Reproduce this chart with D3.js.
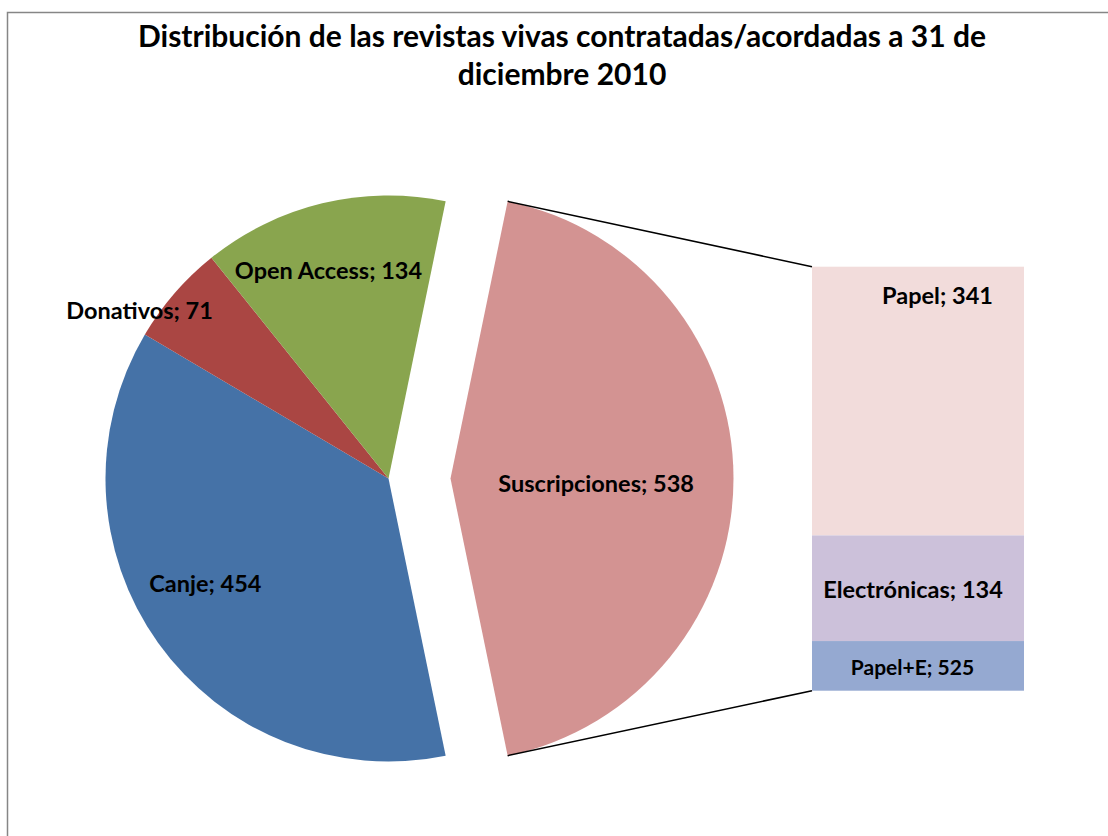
<!DOCTYPE html>
<html><head><meta charset="utf-8">
<script src="https://cdn.jsdelivr.net/npm/d3@7"></script>
<style>body{margin:0;background:#fff;overflow:hidden} svg{display:block}</style>
</head><body>
<script>
// ---- data ----
const titleLines = ["Distribución de las revistas vivas contratadas/acordadas a 31 de", "diciembre 2010"];
const pieCategories = ["Suscripciones", "Canje", "Donativos", "Open Access"];
const pieSliceSizes = [538, 454, 71, 173];   // slice sizes as drawn in the picture
const pieLabelValues = [538, 454, 71, 134];  // values printed in the data labels
const pieColors = ["#D39392", "#4572A7", "#AA4643", "#89A54E"];
const barCategories = ["Papel", "Electrónicas", "Papel+E"];
const barSegmentSizes = [341, 134, 63];      // segment heights as drawn
const barLabelValues = [341, 134, 525];      // values printed in the data labels
const barColors = ["#F2DCDB", "#CCC1DA", "#95A9D1"];

// ---- layout ----
const W = 1108, H = 836;
const FONT = "Lato, 'Open Sans', sans-serif";
const svg = d3.select("body").append("svg").attr("width", W).attr("height", H);

svg.append("rect").attr("x", 7.5).attr("y", 12.5).attr("width", 1200).attr("height", 900)
  .attr("fill", "none").attr("stroke", "#868686").attr("stroke-width", 1.5);

// title
svg.append("g").selectAll("text").data(titleLines).join("text")
  .attr("x", 562).attr("y", (d, i) => 47 + i * 37.5)
  .attr("text-anchor", "middle").attr("font-family", FONT).attr("font-weight", 700)
  .attr("font-size", 30).attr("fill", "#000").text(d => d);

// pie
const cx = 388.5, cy = 478.5, R = 283, explode = 62;
const total = d3.sum(pieSliceSizes);
const sa = Math.PI / 2 - Math.PI * pieSliceSizes[0] / total;
const pie = d3.pie().sort(null).value(d => d).startAngle(sa).endAngle(sa + 2 * Math.PI);
const arcs = pie(pieSliceSizes);
const arc = d3.arc().innerRadius(0).outerRadius(R);
const offset = (d, i) => {
  if (i !== 0) return [0, 0];
  const m = (d.startAngle + d.endAngle) / 2;
  return [explode * Math.sin(m), -explode * Math.cos(m)];
};
const pg = svg.append("g").attr("transform", `translate(${cx},${cy})`);
pg.selectAll("path").data(arcs).join("path")
  .attr("transform", (d, i) => `translate(${offset(d, i)})`)
  .attr("d", arc).attr("fill", (d, i) => pieColors[i]);

// connector lines
const s = arcs[0], o = offset(s, 0);
const bx0 = 812, bw = 212;
const yScale = d3.scaleLinear().domain([0, d3.sum(barSegmentSizes)]).range([266.7, 690.7]);
const pt = a => [cx + o[0] + R * Math.sin(a), cy + o[1] - R * Math.cos(a)];
const conn = [[pt(s.startAngle), [bx0, yScale(0)]], [pt(s.endAngle), [bx0, yScale(d3.sum(barSegmentSizes))]]];
svg.append("g").selectAll("path").data(conn).join("path")
  .attr("d", d => d3.line()(d)).attr("stroke", "#000").attr("stroke-width", 1.5).attr("fill", "none");

// bar of pie
const cum = d3.cumsum(barSegmentSizes);
const segs = barSegmentSizes.map((v, i) => ({ y0: cum[i] - v, y1: cum[i], i }));
svg.append("g").selectAll("rect").data(segs).join("rect")
  .attr("x", bx0).attr("width", bw)
  .attr("y", d => yScale(d.y0)).attr("height", d => yScale(d.y1) - yScale(d.y0))
  .attr("fill", d => barColors[d.i]);

// pie labels
const labelPlace = [{ rf: 0.515, da: 2.1 }, { rf: 0.746, da: 5.7 }, { rf: 1.06, da: -7 }, { rf: 0.763, da: -2.6 }];
pg.selectAll("text").data(arcs).join("text")
  .each(function (d, i) {
    const m = (d.startAngle + d.endAngle) / 2 + labelPlace[i].da * Math.PI / 180;
    const rr = R * labelPlace[i].rf, off = offset(d, i);
    d3.select(this).attr("x", off[0] + rr * Math.sin(m)).attr("y", off[1] - rr * Math.cos(m));
  })
  .attr("dy", "0.35em").attr("text-anchor", "middle")
  .attr("font-family", FONT).attr("font-weight", 700).attr("font-size", 23.5).attr("fill", "#000")
  .text((d, i) => `${pieCategories[i]}; ${pieLabelValues[i]}`);

// bar labels
const barLabelPlace = [{ dx: 19.5, mode: "top", dy: 29, fs: 23.5 }, { dx: -5, mode: "mid", dy: 0, fs: 23.5 }, { dx: -5.5, mode: "mid", dy: 0, fs: 21 }];
svg.append("g").selectAll("text").data(segs).join("text")
  .attr("x", d => bx0 + bw / 2 + barLabelPlace[d.i].dx)
  .attr("y", d => barLabelPlace[d.i].mode === "top" ? yScale(d.y0) + barLabelPlace[d.i].dy : (yScale(d.y0) + yScale(d.y1)) / 2 + 1.5)
  .attr("dy", "0.35em").attr("text-anchor", "middle")
  .attr("font-family", FONT).attr("font-weight", 700).attr("font-size", d => barLabelPlace[d.i].fs).attr("fill", "#000")
  .text(d => `${barCategories[d.i]}; ${barLabelValues[d.i]}`);
</script>
</body></html>
